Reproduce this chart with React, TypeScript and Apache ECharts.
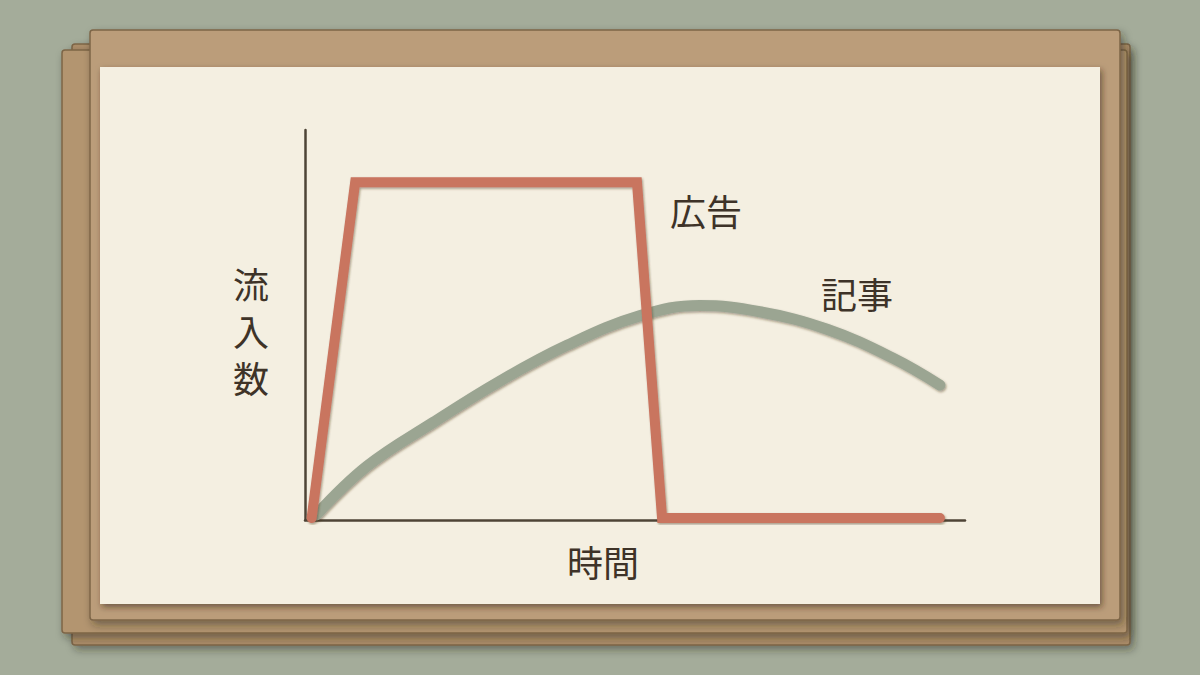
import React, { useEffect, useRef } from "react";
import * as echarts from "echarts";

// Data (time 0-100, inflow 0-100)
const adTime = [1, 7.6, 50.3, 54.1, 96.2];
const adValue = [0.5, 86.6, 86.6, 0.5, 0.5];
const articleTime = [1.7, 9.4, 19.4, 29.5, 39.7, 50.8, 59.8, 68.9, 79.1, 89.1, 96.2];
const articleValue = [1.3, 13.8, 25.0, 35.6, 44.8, 52.4, 55.0, 53.4, 48.9, 41.5, 34.6];
const labels = { x: "時間", y: ["流", "入", "数"], ad: "広告", article: "記事" };

const FONT = '"Noto Sans CJK JP", "Noto Sans", sans-serif';
const INK = "#3e3328";

export default function App() {
  const ref = useRef<HTMLDivElement>(null);
  useEffect(() => {
    if (!ref.current) return;
    const chart = echarts.init(ref.current, undefined, { renderer: "svg" });
    const kraft = (x: number, y: number, w: number, h: number, fill: string) => ({
      type: "rect",
      z: -10,
      shape: { x, y, width: w, height: h, r: 3 },
      style: {
        fill,
        stroke: "#7d6547",
        lineWidth: 1.5,
        shadowColor: "rgba(40,35,20,0.45)",
        shadowBlur: 8,
        shadowOffsetX: 3,
        shadowOffsetY: 4,
      },
      silent: true,
    });
    const txt = (text: string, x: number, y: number) => ({
      type: "text",
      x,
      y,
      z: 10,
      style: {
        text,
        font: `36px ${FONT}`,
        fill: INK,
        align: "center",
        verticalAlign: "middle",
      },
    });
    const lineShadow = {
      shadowColor: "rgba(70,50,30,0.45)",
      shadowBlur: 2,
      shadowOffsetX: 1,
      shadowOffsetY: 1.5,
    };
    chart.setOption({
      animation: false,
      backgroundColor: "#a4ac9a",
      grid: { left: 305, right: 235, top: 130, bottom: 155 },
      xAxis: {
        type: "value",
        min: 0,
        max: 100,
        axisLine: { show: true, lineStyle: { color: "#4e4436", width: 2.5 } },
        axisTick: { show: false },
        axisLabel: { show: false },
        splitLine: { show: false },
      },
      yAxis: {
        type: "value",
        min: 0,
        max: 100,
        axisLine: { show: true, lineStyle: { color: "#4e4436", width: 2.5 } },
        axisTick: { show: false },
        axisLabel: { show: false },
        splitLine: { show: false },
      },
      graphic: [
        kraft(72, 44, 1058, 601, "#ad8e6b"),
        kraft(62, 50, 1065, 583, "#b3956f"),
        kraft(90, 30, 1030, 590, "#bb9d7a"),
        {
          type: "rect",
          z: -5,
          shape: { x: 100, y: 67, width: 1000, height: 537 },
          style: {
            fill: "#f4efe1",
            shadowColor: "rgba(50,35,20,0.55)",
            shadowBlur: 6,
            shadowOffsetX: 2,
            shadowOffsetY: 3,
          },
          silent: true,
        },
        txt(labels.y[0], 251, 283),
        txt(labels.y[1], 251, 330),
        txt(labels.y[2], 251, 377),
        txt(labels.x, 603, 561),
        txt(labels.ad, 706, 210),
        txt(labels.article, 857, 293),
      ],
      series: [
        {
          name: labels.article,
          type: "line",
          smooth: 0.4,
          showSymbol: false,
          symbol: "none",
          data: articleTime.map((t, i) => [t, articleValue[i]]),
          lineStyle: { color: "#9ba592", width: 11, cap: "round", ...lineShadow },
          z: 3,
        },
        {
          name: labels.ad,
          type: "line",
          showSymbol: false,
          symbol: "none",
          data: adTime.map((t, i) => [t, adValue[i]]),
          lineStyle: { color: "#c9745f", width: 10, cap: "round", join: "miter", ...lineShadow },
          z: 4,
        },
      ],
    });
    return () => chart.dispose();
  }, []);
  return (
    <div
      ref={ref}
      style={{ position: "fixed", left: 0, top: 0, width: 1200, height: 675 }}
    />
  );
}
